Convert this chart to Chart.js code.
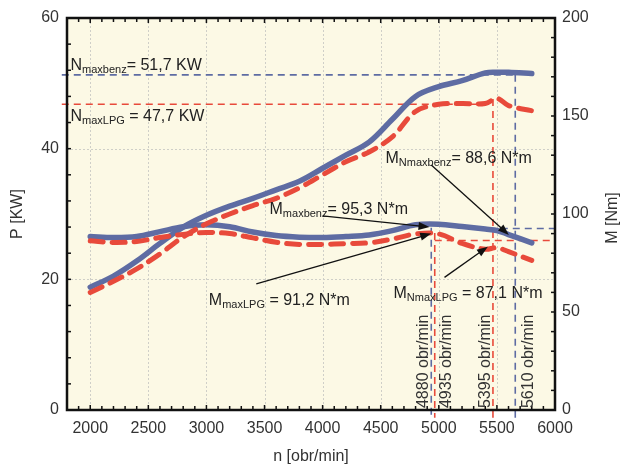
<!DOCTYPE html>
<html>
<head>
<meta charset="utf-8">
<script src="https://cdn.jsdelivr.net/npm/chart.js@4.4.0/dist/chart.umd.min.js"></script>
<style>
  html, body { margin: 0; padding: 0; background: #fff; }
  #wrap { width: 624px; height: 468px; }
</style>
</head>
<body>
<div id="wrap"><canvas id="chart"></canvas></div>
<script>
// engine speed [obr/min]
const rpm = [2000, 2200, 2400, 2600, 2800, 3000, 3200, 3400, 3600, 3800, 4000,
  4200, 4400, 4600, 4800, 5000, 5200, 5400, 5500, 5600, 5800];
// power [KW]
const powerBenz = [18.8, 20.5, 22.8, 25.5, 28.0, 29.8, 31.2, 32.4, 33.7, 35.0, 37.0,
  39.0, 41.0, 44.5, 48.0, 49.5, 50.4, 51.6, 51.7, 51.7, 51.5];
const powerLpg = [18.0, 19.7, 21.6, 23.9, 26.5, 28.5, 30.0, 31.3, 32.4, 34.0, 36.0,
  38.0, 39.5, 41.8, 45.7, 46.8, 46.9, 46.9, 47.7, 46.6, 45.8];
// torque [Nm]
const torqueBenz = [88.5, 88.0, 88.5, 91.0, 93.5, 94.5, 93.5, 90.8, 89.0, 88.2, 88.0,
  88.5, 89.3, 91.5, 94.5, 94.8, 93.6, 92.3, 91.6, 89.5, 85.3];
const torqueLpg = [86.3, 85.5, 86.0, 88.0, 89.6, 90.6, 90.0, 87.8, 85.6, 84.5, 84.5,
  84.9, 85.3, 87.2, 89.8, 89.8, 85.0, 82.0, 82.8, 80.8, 76.3];

// reference lines (as drawn in the figure)
const refBenzP = 51.3;
const refLpgP = 46.8;
const refBenzM = 92.6;
const refLpgM = 86.5;
const rpmMaxMBenz = 4935;
const rpmMaxMLpg = 4965;
const rpmMaxPLpg = 5466;
const rpmMaxPBenz = 5658;

const xTicks = [2000, 2500, 3000, 3500, 4000, 4500, 5000, 5500, 6000];
const pTicks = [0, 20, 40, 60];
const mTicks = [0, 50, 100, 150, 200];

const blue = "#5E6CA3";
const red = "#E84A3B";
const FONT = "'Liberation Sans', Arial, sans-serif";

function pts(xs, ys) {
  return xs.map((x, i) => ({ x: x, y: ys[i] }));
}

function refLine(data, color, axis) {
  return {
    data: data,
    yAxisID: axis,
    borderColor: color,
    borderWidth: 1.6,
    borderDash: [7, 5],
    pointRadius: 0,
    tension: 0,
    clip: false,
    order: 2,
  };
}

function drawParts(ctx, x, y, parts) {
  parts.forEach((p) => {
    const size = p[1];
    const dy = size < 14 ? 3 : 0;
    ctx.font = size + "px " + FONT;
    ctx.fillText(p[0], x, y + dy);
    x += ctx.measureText(p[0]).width;
  });
}

function arrow(ctx, x1, y1, x2, y2) {
  const a = Math.atan2(y2 - y1, x2 - x1);
  const len = 11, w = 4;
  ctx.beginPath();
  ctx.moveTo(x1, y1);
  ctx.lineTo(x2 - Math.cos(a) * len * 0.8, y2 - Math.sin(a) * len * 0.8);
  ctx.stroke();
  ctx.beginPath();
  ctx.moveTo(x2, y2);
  ctx.lineTo(x2 - Math.cos(a) * len + Math.sin(a) * w, y2 - Math.sin(a) * len - Math.cos(a) * w);
  ctx.lineTo(x2 - Math.cos(a) * len - Math.sin(a) * w, y2 - Math.sin(a) * len + Math.cos(a) * w);
  ctx.closePath();
  ctx.fill();
}

// text notes in data units (n, P)
const notes = [
  { n: 1830, p: 52.0, parts: [["N", 16], ["maxbenz", 11], ["= 51,7 KW", 16]] },
  { n: 1830, p: 44.2, parts: [["N", 16], ["maxLPG", 11], [" = 47,7 KW", 16]] },
  { n: 4541, p: 37.8, parts: [["M", 16], ["Nmaxbenz", 11], ["= 88,6 N*m", 16]] },
  { n: 3543, p: 30.0, parts: [["M", 16], ["maxbenz", 11], ["= 95,3 N*m", 16]] },
  { n: 3021, p: 16.1, parts: [["M", 16], ["maxLPG", 11], [" = 91,2 N*m", 16]] },
  { n: 4610, p: 17.2, parts: [["M", 16], ["NmaxLPG", 11], [" = 87,1 N*m", 16]] },
];
const arrows = [
  [3999, 29.7, 4920, 28.0],
  [3429, 19.3, 4935, 27.0],
  [4935, 37.5, 5603, 26.8],
  [5049, 20.3, 5422, 25.0],
];
const rpmLabels = [
  { n: 4911, text: "4880 obr/min" },
  { n: 5109, text: "4935 obr/min" },
  { n: 5437, text: "5395 obr/min" },
  { n: 5807, text: "5610 obr/min" },
];

const framePlugin = {
  id: "frame",
  beforeDatasetsDraw(chart) {
    const { ctx, chartArea: a, scales } = chart;
    ctx.save();
    ctx.fillStyle = "#FCF9E5";
    ctx.fillRect(a.left, a.top, a.right - a.left, a.bottom - a.top);
    ctx.strokeStyle = "#CFCFC8";
    ctx.lineWidth = 1;
    ctx.setLineDash([2, 2]);
    xTicks.slice(0, -1).forEach((v) => {
      const x = Math.round(scales.x.getPixelForValue(v)) + 0.5;
      ctx.beginPath(); ctx.moveTo(x, a.top); ctx.lineTo(x, a.bottom); ctx.stroke();
    });
    pTicks.slice(1, -1).forEach((v) => {
      const y = Math.round(scales.p.getPixelForValue(v)) + 0.5;
      ctx.beginPath(); ctx.moveTo(a.left, y); ctx.lineTo(a.right, y); ctx.stroke();
    });
    ctx.restore();
  },
  afterDatasetsDraw(chart) {
    const { ctx, chartArea: a, scales } = chart;
    ctx.save();
    ctx.strokeStyle = "#111";
    ctx.lineWidth = 1.5;
    for (let v = 1800; v <= 6000; v += 100) {
      const x = scales.x.getPixelForValue(v);
      const l = v % 500 === 0 ? 5 : 4;
      ctx.beginPath();
      ctx.moveTo(x, a.bottom); ctx.lineTo(x, a.bottom - l);
      ctx.moveTo(x, a.top); ctx.lineTo(x, a.top + l);
      ctx.stroke();
    }
    for (let v = 0; v <= 60; v += 4) {
      const y = scales.p.getPixelForValue(v);
      ctx.beginPath(); ctx.moveTo(a.left, y); ctx.lineTo(a.left + 4, y); ctx.stroke();
    }
    for (let v = 0; v <= 200; v += 10) {
      const y = scales.m.getPixelForValue(v);
      ctx.beginPath(); ctx.moveTo(a.right, y); ctx.lineTo(a.right - 4, y); ctx.stroke();
    }
    ctx.lineWidth = 2.5;
    ctx.strokeRect(a.left, a.top, a.right - a.left, a.bottom - a.top);
    ctx.restore();
  },
  afterDraw(chart) {
    const { ctx, chartArea: a, scales } = chart;
    const X = (v) => scales.x.getPixelForValue(v);
    const Y = (v) => scales.p.getPixelForValue(v);
    ctx.save();
    ctx.fillStyle = "#222";
    ctx.textBaseline = "alphabetic";
    notes.forEach((t) => drawParts(ctx, X(t.n), Y(t.p), t.parts));
    ctx.strokeStyle = "#111";
    ctx.fillStyle = "#111";
    ctx.lineWidth = 1.3;
    arrows.forEach((r) => arrow(ctx, X(r[0]), Y(r[1]), X(r[2]), Y(r[3])));
    ctx.fillStyle = "#333";
    ctx.font = "16px " + FONT;
    rpmLabels.forEach((t) => {
      ctx.save();
      ctx.translate(X(t.n), Y(0.3));
      ctx.rotate(-Math.PI / 2);
      ctx.textAlign = "left";
      ctx.fillText(t.text, 0, 0);
      ctx.restore();
    });
    // axis titles
    ctx.textAlign = "center";
    ctx.textBaseline = "middle";
    ctx.fillText("n [obr/min]", (a.left + a.right) / 2, 457);
    ctx.save();
    ctx.translate(18, 214);
    ctx.rotate(-Math.PI / 2);
    ctx.fillText("P [KW]", 0, 0);
    ctx.restore();
    ctx.save();
    ctx.translate(613, 218);
    ctx.rotate(-Math.PI / 2);
    ctx.fillText("M [Nm]", 0, 0);
    ctx.restore();
    ctx.restore();
  },
};

const tickFont = { family: FONT, size: 16 };
const plain = (v) => String(v);

new Chart(document.getElementById("chart"), {
  type: "line",
  data: {
    datasets: [
      {
        data: pts(rpm, powerLpg), yAxisID: "p", borderColor: red, borderWidth: 5,
        borderDash: [13, 9], borderCapStyle: "round", pointRadius: 0, tension: 0.35, order: 0,
      },
      {
        data: pts(rpm, torqueLpg), yAxisID: "m", borderColor: red, borderWidth: 5,
        borderDash: [13, 9], borderCapStyle: "round", pointRadius: 0, tension: 0.35, order: 0,
      },
      {
        data: pts(rpm, powerBenz), yAxisID: "p", borderColor: blue, borderWidth: 5.5,
        borderCapStyle: "round", pointRadius: 0, tension: 0.35, order: 1,
      },
      {
        data: pts(rpm, torqueBenz), yAxisID: "m", borderColor: blue, borderWidth: 5.5,
        borderCapStyle: "round", pointRadius: 0, tension: 0.35, order: 1,
      },
      refLine(pts([1755, rpmMaxPBenz], [refBenzP, refBenzP]), blue, "p"),
      refLine(pts([1755, rpmMaxPLpg], [refLpgP, refLpgP]), red, "p"),
      refLine(pts([rpmMaxPBenz, rpmMaxPBenz], [refBenzP, -1.2]), blue, "p"),
      refLine(pts([rpmMaxPLpg, rpmMaxPLpg], [47.6, -1.2]), red, "p"),
      refLine(pts([rpmMaxMBenz, rpmMaxMBenz], [27.9, -1.2]), blue, "p"),
      refLine(pts([rpmMaxMLpg, rpmMaxMLpg], [27.1, -1.2]), red, "p"),
      refLine(pts([5430, 6000], [refBenzM, refBenzM]), blue, "m"),
      refLine(pts([rpmMaxMLpg, 6000], [refLpgM, refLpgM]), red, "m"),
    ],
  },
  options: {
    responsive: true,
    maintainAspectRatio: false,
    animation: false,
    layout: { padding: { top: 18, left: 0, right: 0, bottom: 0 } },
    plugins: { legend: { display: false }, tooltip: { enabled: false } },
    scales: {
      x: {
        type: "linear", min: 1800, max: 6000,
        afterBuildTicks: (s) => { s.ticks = xTicks.map((v) => ({ value: v })); },
        afterFit: (s) => { s.height = 58; },
        grid: { display: false, drawTicks: false },
        border: { display: false },
        ticks: { font: tickFont, color: "#333", padding: 9, maxRotation: 0, autoSkip: false, callback: plain },
      },
      p: {
        type: "linear", position: "left", min: 0, max: 60,
        afterBuildTicks: (s) => { s.ticks = pTicks.map((v) => ({ value: v })); },
        afterFit: (s) => { s.width = 67; },
        grid: { display: false, drawTicks: false },
        border: { display: false },
        ticks: { font: tickFont, color: "#333", padding: 8, callback: plain },
      },
      m: {
        type: "linear", position: "right", min: 0, max: 200,
        afterBuildTicks: (s) => { s.ticks = mTicks.map((v) => ({ value: v })); },
        afterFit: (s) => { s.width = 69; },
        grid: { display: false, drawTicks: false },
        border: { display: false },
        ticks: { font: tickFont, color: "#333", padding: 7, callback: plain },
      },
    },
  },
  plugins: [framePlugin],
});
</script>
</body>
</html>
